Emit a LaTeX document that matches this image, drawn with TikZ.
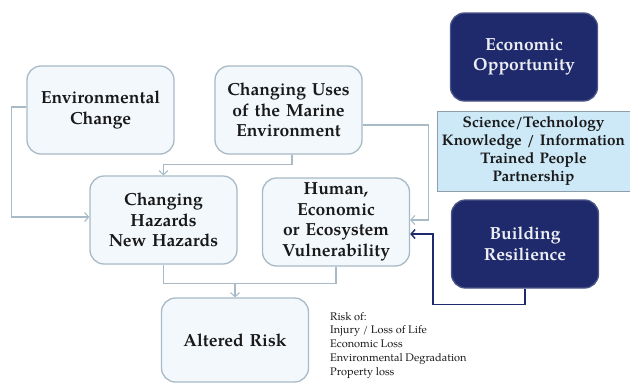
\documentclass[tikz,border=0pt]{standalone}
\usepackage{fontspec}
\setmainfont{TeX Gyre Pagella}
\usetikzlibrary{arrows.meta, positioning, calc}
\definecolor{meuazul}{HTML}{1F2A6C}
\definecolor{meuclaro}{HTML}{F3F8FC}
\definecolor{meuceleste}{HTML}{CDE9F7}
\definecolor{meucinza}{HTML}{A8BAC6}

\begin{document}
\begin{tikzpicture}[
                x=1pt, y=1pt,
                box/.style={draw=meucinza, line width=1.3pt, rounded corners=14pt, fill=meuclaro, text width=145pt, align=center, font=\fontsize{17.5}{20.5}\selectfont\bfseries, text=black!90, minimum width=147pt, minimum height=88pt, inner sep=0pt},
                darkbox/.style={box, draw=meuazul!80, fill=meuazul, text=white!92!meuazul},
                infobox/.style={draw=meucinza!85!black, line width=1pt, fill=meuceleste, text width=192pt, align=center, font=\fontsize{15.3}{18}\selectfont\bfseries, text=black!90, minimum width=193pt, minimum height=80pt, inner sep=0pt},
                arrow/.style={-{Straight Barb[length=4pt, width=9pt]}, line width=1.1pt, color=meucinza},
                line/.style={line width=1.1pt, color=meucinza},
                darkarrow/.style={-{Straight Barb[length=4pt, width=9pt]}, line width=1.4pt, color=meuazul}
            ]
                \useasboundingbox (0,0) rectangle (630,-383);

                % Caixas
                \node[box] (env) at (100.5,-110) {Environmental\\Change};
                \node[box] (uses) at (288.5,-110) {Changing Uses\\of the Marine\\Environment};
                \node[box] (haz) at (163.5,-220) {Changing\\Hazards\\New Hazards};
                \node[box] (vuln) at (336,-222) {Human,\\Economic\\or Ecosystem\\Vulnerability};
                \node[box, minimum height=84pt] (risk) at (235,-340) {Altered Risk};

                \node[darkbox] (econ) at (524,-57) {Economic\\Opportunity};
                \node[infobox] (sci) at (533.5,-151) {Science/Technology\\Knowledge / Information\\Trained People\\Partnership};
                \node[darkbox] (build) at (525,-244) {Building\\Resilience};

                \node[anchor=north west, align=left, font=\fontsize{11}{13.7}\selectfont, text=black!90, inner sep=0pt] (riskof) at (330,-312) {Risk of:\\Injury / Loss of Life\\Economic Loss\\Environmental Degradation\\Property loss};

                % Conexões
                \draw[arrow] ([yshift=3pt]env.west) -- ++(-15,0) |- ([yshift=3pt]haz.west);
                \draw[arrow] ([xshift=3.5pt]uses.south) -- ++(0,-10) -| (haz.north);
                \draw[arrow] ([yshift=-15pt]uses.east) -- ++(66,0) |- ([yshift=2pt]vuln.east);
                \draw[darkarrow] (build.south) -- ++(0,-16) -| ([xshift=23pt,yshift=-12pt]vuln.east) -- ([yshift=-12pt]vuln.east);
                \draw[line] (haz.south) -- ++(0,-19) coordinate (junta) -| (vuln.south);
                \draw[arrow] (junta -| risk.north) -- (risk.north);
            \end{tikzpicture}
\end{document}
